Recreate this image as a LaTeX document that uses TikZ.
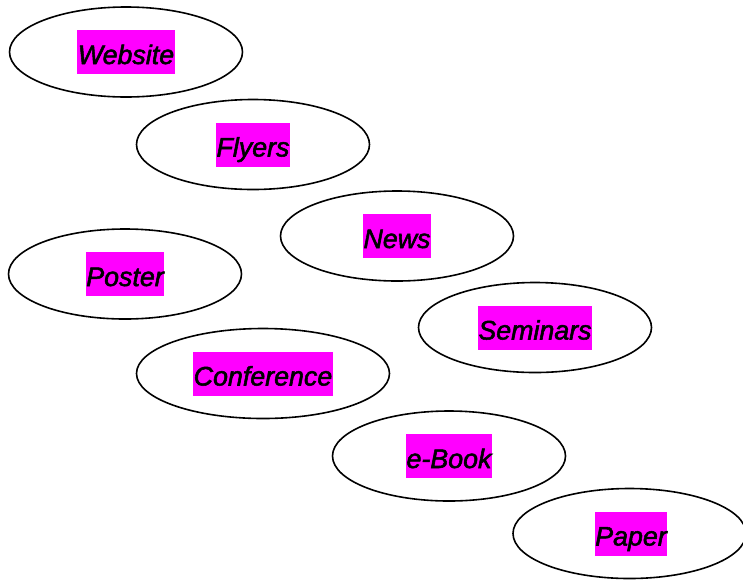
\documentclass[tikz,border=0pt]{standalone}
\usepackage{fontspec}
\newfontfamily\tagfont[ItalicFeatures={FakeBold=2}]{Liberation Sans}
\usepackage{xcolor}
\definecolor{tagpink}{HTML}{FF00FF}
\usetikzlibrary{shapes.geometric}
\tikzset{
  oval/.style={draw=black, ellipse, fill=white, line width=1.6pt,
               inner sep=0pt, minimum width=233pt, minimum height=90pt},
  wideoval/.style={oval, minimum width=253pt},
  tag/.style={fill=tagpink, font=\tagfont\itshape\fontsize{26.8}{30}\selectfont,
              inner xsep=0.5pt, inner ysep=0pt, minimum height=44pt,
              text height=34pt, text depth=10pt},
}

\begin{document}
\begin{tikzpicture}[x=1pt, y=-1pt]
  \useasboundingbox (0,0) rectangle (743,579);
  % the ovals
  \node[oval] (website) at (126,52) {};
  \node[oval] (flyers) at (253,144.5) {};
  \node[oval] (news) at (397,236) {};
  \node[oval] (poster) at (125,274) {};
  \node[oval] (seminars) at (535,327.5) {};
  \node[wideoval] (conference) at (263,373.5) {};
  \node[oval] (ebook) at (449,456) {};
  \node[oval] (paper) at (629.5,533.5) {};
  % the labels
  \node[tag] (website-t) at (website.center) {Website};
  \node[tag] (flyers-t) at (flyers.center) {Flyers};
  \node[tag] (news-t) at (news.center) {News};
  \node[tag] (poster-t) at (poster.center) {Poster};
  \node[tag] (seminars-t) at (seminars.center) {Seminars};
  \node[tag] (conference-t) at (conference.center) {Conference};
  \node[tag] (ebook-t) at (ebook.center) {e-Book};
  \node[tag] (paper-t) at ([xshift=1.5pt]paper.center) {Paper};
\end{tikzpicture}
\end{document}
